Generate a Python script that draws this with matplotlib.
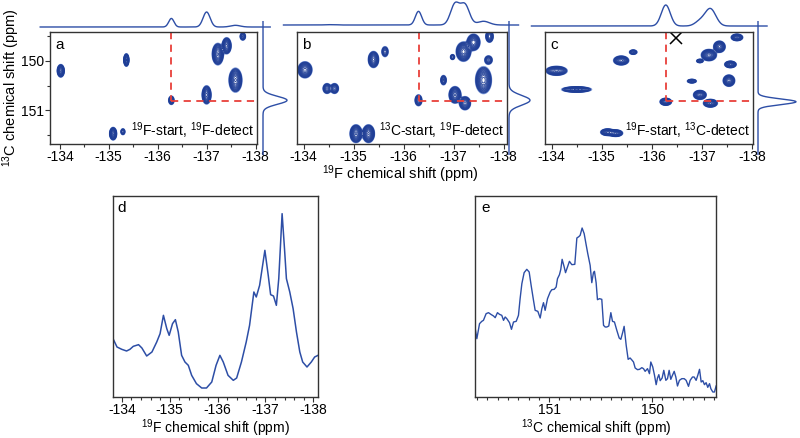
import numpy as np
import matplotlib.pyplot as plt
from matplotlib.ticker import MultipleLocator, NullLocator

plt.rcParams['font.family'] = ['Liberation Sans', 'DejaVu Sans']
plt.rcParams['mathtext.default'] = 'regular'
plt.rcParams['axes.unicode_minus'] = False
plt.rcParams['font.size'] = 10

# ---- 2D peak tables (19F shift, 13C shift, 19F width, 13C width, height) ----
a_f = [-134.02, -135.36, -135.09, -135.29, -136.28, -137.00, -137.23, -137.41, -137.59, -137.74]
a_c = [150.20, 149.98, 151.48, 151.44, 150.80, 150.69, 149.86, 149.69, 150.39, 149.50]
a_wf = [0.032, 0.024, 0.032, 0.025, 0.030, 0.040, 0.048, 0.040, 0.055, 0.030]
a_wc = [0.055, 0.055, 0.055, 0.035, 0.045, 0.079, 0.090, 0.070, 0.100, 0.040]
a_amp = [1.0, 1.0, 1.0, 0.3, 0.4, 1.0, 1.2, 1.0, 1.2, 0.4]

b_f = [-134.03, -134.47, -134.62, -135.40, -135.63, -135.05, -135.30, -136.30, -136.80,
       -137.03, -137.23, -137.20, -137.40, -136.98, -137.60, -137.70, -137.72]
b_c = [150.18, 150.56, 150.56, 149.97, 149.81, 151.48, 151.48, 150.80, 150.39,
       150.69, 150.86, 149.81, 149.62, 149.92, 150.39, 149.98, 149.50]
b_wf = [0.060, 0.040, 0.040, 0.045, 0.035, 0.050, 0.050, 0.035, 0.030,
        0.050, 0.050, 0.060, 0.055, 0.025, 0.065, 0.040, 0.035]
b_wc = [0.070, 0.050, 0.050, 0.070, 0.055, 0.075, 0.075, 0.055, 0.050,
        0.070, 0.060, 0.080, 0.070, 0.030, 0.110, 0.045, 0.055]
b_amp = [1.0, 0.5, 0.5, 1.0, 0.35, 1.2, 1.2, 0.5, 0.4,
         1.2, 0.8, 1.3, 1.1, 0.3, 1.3, 0.4, 0.7]

c_f = [-134.10, -134.50, -135.39, -135.63, -135.12, -135.28, -136.28, -136.80,
       -136.96, -137.17, -137.14, -137.35, -136.96, -137.57, -137.54, -137.70]
c_c = [150.20, 150.58, 149.99, 149.82, 151.45, 151.47, 150.83, 150.41,
       150.69, 150.86, 149.88, 149.71, 150.00, 150.07, 150.40, 149.52]
c_wf = [0.090, 0.125, 0.065, 0.040, 0.060, 0.060, 0.050, 0.045,
        0.055, 0.060, 0.065, 0.050, 0.035, 0.050, 0.050, 0.050]
c_wc = [0.040, 0.025, 0.040, 0.025, 0.030, 0.030, 0.032, 0.020,
        0.040, 0.035, 0.050, 0.050, 0.020, 0.030, 0.050, 0.030]
c_amp = [1.0, 1.0, 1.0, 0.4, 1.0, 1.0, 1.0, 0.5, 1.0, 1.0, 1.0, 1.0, 0.4, 1.0, 1.0, 1.0]

# cross-section positions (dashed lines)
cut_f = [-136.28, -136.30, -136.28]
cut_c = [150.81, 150.81, 150.82]

# ---- 1D spectra ----
d_shift = [-133.81, -133.90, -134.00, -134.10, -134.17, -134.24, -134.35, -134.42, -134.52, -134.63,
           -134.73, -134.80, -134.87, -134.94, -134.99, -135.06, -135.12, -135.18, -135.25, -135.32,
           -135.39, -135.46, -135.56, -135.67, -135.77, -135.88, -135.97, -136.05, -136.12, -136.22,
           -136.33, -136.40, -136.50, -136.60, -136.67, -136.76, -136.81, -136.88, -136.99, -137.06,
           -137.11, -137.17, -137.23, -137.28, -137.35, -137.40, -137.44, -137.51, -137.58, -137.65,
           -137.72, -137.78, -137.87, -137.96, -138.03, -138.10]
d_int = [177, 150, 143, 138, 143, 152, 157, 147, 123, 135,
         165, 190, 245, 205, 185, 220, 232, 195, 125, 105,
         95, 65, 40, 27, 27, 45, 95, 125, 105, 65,
         50, 57, 105, 165, 215, 315, 300, 335, 440, 365,
         307, 303, 275, 355, 550, 445, 355, 315, 265, 195,
         135, 105, 90, 105, 120, 125]

e_shift = [151.718, 151.702, 151.676, 151.654, 151.638, 151.612, 151.589, 151.566, 151.540, 151.524,
           151.502, 151.482, 151.460, 151.443, 151.427, 151.411, 151.385, 151.366, 151.346, 151.320,
           151.298, 151.282, 151.265, 151.243, 151.217, 151.194, 151.175, 151.152, 151.136, 151.110,
           151.087, 151.071, 151.055, 151.039, 151.016, 150.990, 150.974, 150.951, 150.932, 150.919,
           150.900, 150.887, 150.874, 150.854, 150.841, 150.822, 150.803, 150.780, 150.751, 150.731,
           150.712, 150.699, 150.680, 150.660, 150.641, 150.625, 150.602, 150.586, 150.570, 150.560,
           150.544, 150.531, 150.511, 150.489, 150.472, 150.456, 150.440, 150.421, 150.401, 150.385,
           150.366, 150.343, 150.320, 150.304, 150.285, 150.272, 150.252, 150.233, 150.214, 150.194,
           150.181, 150.165, 150.142, 150.123, 150.100, 150.084, 150.068, 150.045, 150.026, 150.013,
           149.994, 149.977, 149.961, 149.948, 149.935, 149.922, 149.903, 149.887, 149.867, 149.851,
           149.835, 149.819, 149.803, 149.786, 149.770, 149.754, 149.735, 149.712, 149.689, 149.670,
           149.647, 149.631, 149.608, 149.592, 149.573, 149.557, 149.540, 149.524, 149.508, 149.492,
           149.476, 149.460, 149.443, 149.430, 149.411, 149.395, 149.379]
e_int = [205, 175, 220, 227, 230, 250, 253, 248, 243, 238,
         253, 248, 245, 230, 240, 235, 223, 203, 225, 227,
         245, 295, 340, 373, 383, 375, 335, 290, 260, 257,
         237, 265, 283, 260, 295, 315, 322, 323, 330, 355,
         367, 383, 413, 390, 373, 390, 407, 397, 398, 477,
         481, 485, 507, 490, 457, 430, 395, 343, 373, 377,
         343, 292, 295, 293, 215, 210, 210, 213, 253, 227,
         225, 200, 177, 173, 195, 212, 155, 113, 117, 110,
         105, 87, 82, 83, 88, 85, 77, 85, 70, 105,
         90, 65, 37, 57, 67, 49, 57, 80, 50, 55,
         80, 53, 65, 77, 60, 33, 50, 55, 55, 50,
         32, 50, 60, 60, 50, 65, 83, 45, 49, 37,
         43, 29, 40, 25, 15, 15, 33]

notes = [r'$^{19}$F-start, $^{19}$F-detect',
         r'$^{13}$C-start, $^{19}$F-detect',
         r'$^{19}$F-start, $^{13}$C-detect']

BLUE = '#2d4ea6'
RED = '#e8403a'
W, H = 800, 438

fig = plt.figure(figsize=(W / 100, H / 100), dpi=100)


def px_axes(x0, y0, x1, y1):
    return fig.add_axes([x0 / W, 1 - y1 / H, (x1 - x0) / W, (y1 - y0) / H])


def style(ax):
    for s in ax.spines.values():
        s.set_linewidth(1.0)
        s.set_color('#333333')
    ax.tick_params(which='both', direction='out', width=0.8, colors='#333333', labelcolor='black')
    ax.tick_params(which='major', length=3.5, labelsize=10, pad=1)
    ax.tick_params(which='minor', length=2)


fgrid = np.linspace(-133.6, -138.3, 700)
cgrid = np.linspace(149.2, 151.9, 420)
FF, CC = np.meshgrid(fgrid, cgrid)


def field(f0, c0, wf, wc, amp, broad=1.0):
    z = np.zeros_like(FF)
    for f, c, sf, sc, h in zip(f0, c0, wf, wc, amp):
        sf, sc = sf * broad, sc * broad
        z += h * np.exp(-((FF - f) ** 2 / (2 * sf ** 2) + (CC - c) ** 2 / (2 * sc ** 2)))
    return z


levels = 0.05 * 1.25 ** np.arange(18)
lev_cols = ['#9ab0e3', '#6684cc'] + ['#1f3e96'] * (len(levels) - 2)

tables = [(a_f, a_c, a_wf, a_wc, a_amp),
          (b_f, b_c, b_wf, b_wc, b_amp),
          (c_f, c_c, c_wf, c_wc, c_amp)]
boxes = [(50, 257), (297, 507), (545, 753)]
xlims = [(-133.8, -138.03), (-133.87, -138.07), (-133.87, -138.02)]
tops = [(12, 27), (2, 25), (5, 26)]
rights = [(263, 287), (509, 530), (758, 796)]
tags = ['a', 'b', 'c']
ylim2d = (151.69, 149.41)

for i in range(3):
    x0, x1 = boxes[i]
    ax = px_axes(x0, 32, x1, 144)
    z = field(*tables[i])
    ax.contour(FF, CC, z, levels=levels, colors=lev_cols, linewidths=0.6)
    ax.set_xlim(*xlims[i])
    ax.set_ylim(*ylim2d)
    style(ax)
    ax.xaxis.set_major_locator(MultipleLocator(1))
    ax.xaxis.set_minor_locator(MultipleLocator(0.5))
    if i == 0:
        ax.yaxis.set_major_locator(MultipleLocator(1))
        ax.yaxis.set_minor_locator(MultipleLocator(0.5))
    else:
        ax.yaxis.set_major_locator(NullLocator())
        ax.yaxis.set_minor_locator(NullLocator())
    # dashed cross-section guides
    ax.plot([cut_f[i], cut_f[i]], [ylim2d[1], cut_c[i]], color=RED, lw=1.3, dashes=(4, 3))
    ax.plot([cut_f[i], xlims[i][1]], [cut_c[i], cut_c[i]], color=RED, lw=1.3, dashes=(4, 3))
    ax.text(0.025, 0.95, tags[i], transform=ax.transAxes, ha='left', va='top', fontsize=11)
    ax.text(0.985, 0.025, notes[i], transform=ax.transAxes, ha='right', va='bottom', fontsize=10)
    if i == 2:
        ax.plot([-136.48], [149.54], marker='x', ms=8, mew=1.1, color='black')

    # line-broadened field for the 1D traces along the guides
    zb = field(*tables[i], broad=1.8)

    row = zb[np.argmin(np.abs(cgrid - cut_c[i])), :]
    t0, t1 = tops[i]
    axt = px_axes(x0, t0, x1 + 3, t1)
    axt.plot(fgrid, row / row.max(), color=BLUE, lw=1.0, clip_on=False)
    axt.set_xlim(xlims[i][0], xlims[i][1] - 3 * (xlims[i][0] - xlims[i][1]) / (x1 - x0))
    axt.set_ylim(0, 1)
    axt.axis('off')

    col = zb[:, np.argmin(np.abs(fgrid - cut_f[i]))]
    r0, r1 = rights[i]
    axr = px_axes(r0, 32, r1, 144)
    axr.plot(col / col.max(), cgrid, color=BLUE, lw=1.0, clip_on=False)
    axr.set_xlim(0, 1)
    axr.set_ylim(*ylim2d)
    axr.axis('off')

fig.text(11 / W, 1 - 88 / H, r'$^{13}$C chemical shift (ppm)', rotation=90,
         ha='center', va='center', fontsize=10.5)
fig.text(400 / W, 1 - 174 / H, r'$^{19}$F chemical shift (ppm)',
         ha='center', va='center', fontsize=10.5)

# ---- panel d ----
ax = px_axes(112.7, 196, 318, 397)
ax.plot(d_shift, d_int, color=BLUE, lw=1.1)
ax.set_xlim(-133.81, -138.1)
ax.set_ylim(0, 603)
style(ax)
ax.xaxis.set_major_locator(MultipleLocator(1))
ax.xaxis.set_minor_locator(MultipleLocator(0.2))
ax.yaxis.set_major_locator(NullLocator())
ax.text(0.025, 0.975, 'd', transform=ax.transAxes, ha='left', va='top', fontsize=11)
fig.text(215 / W, 1 - 428 / H, r'$^{19}$F chemical shift (ppm)',
         ha='center', va='center', fontsize=10)

# ---- panel e ----
ax = px_axes(475, 196, 716, 397)
ax.plot(e_shift, e_int, color=BLUE, lw=1.0)
ax.set_xlim(151.72, 149.38)
ax.set_ylim(0, 603)
style(ax)
ax.xaxis.set_major_locator(MultipleLocator(1))
ax.xaxis.set_minor_locator(MultipleLocator(0.1))
ax.yaxis.set_major_locator(NullLocator())
ax.text(0.025, 0.975, 'e', transform=ax.transAxes, ha='left', va='top', fontsize=11)
fig.text(596 / W, 1 - 428 / H, r'$^{13}$C chemical shift (ppm)',
         ha='center', va='center', fontsize=10)

fig.savefig('out.png', dpi=100)
